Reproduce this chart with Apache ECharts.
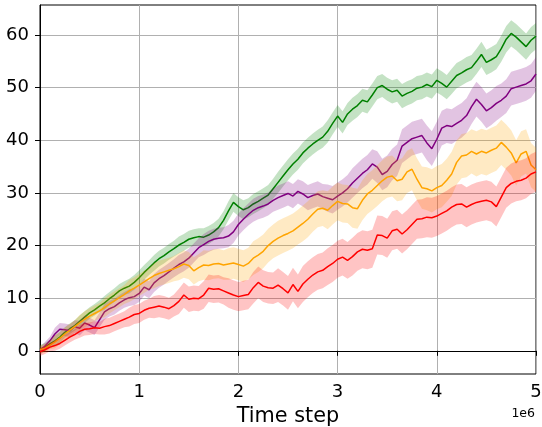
<!DOCTYPE html>
<html>
<head>
<meta charset="utf-8">
<script src="https://cdn.jsdelivr.net/npm/echarts@6/dist/echarts.min.js"></script>
<style>html,body{margin:0;padding:0;background:#fff}#c{width:542px;height:427px}</style>
</head>
<body>
<div id="c"></div>
<script>
// time steps in millions (x axis shown with 1e6 offset)
const stepsM = [0.00,0.05,0.10,0.15,0.20,0.25,0.30,0.35,0.40,0.45,0.50,0.55,0.60,0.65,0.70,0.75,0.80,0.85,0.90,0.95,
1.00,1.05,1.10,1.15,1.20,1.25,1.30,1.35,1.40,1.45,1.50,1.55,1.60,1.65,1.70,1.75,1.80,1.85,1.90,1.95,
2.00,2.05,2.10,2.15,2.20,2.25,2.30,2.35,2.40,2.45,2.50,2.55,2.60,2.65,2.70,2.75,2.80,2.85,2.90,2.95,
3.00,3.05,3.10,3.15,3.20,3.25,3.30,3.35,3.40,3.45,3.50,3.55,3.60,3.65,3.70,3.75,3.80,3.85,3.90,3.95,
4.00,4.05,4.10,4.15,4.20,4.25,4.30,4.35,4.40,4.45,4.50,4.55,4.60,4.65,4.70,4.75,4.80,4.85,4.90,4.95,5.00];

const greenMean = [0.3,0.7,1.3,1.9,2.6,3.5,4.2,4.8,5.6,6.4,7.2,7.8,8.5,9.1,9.9,10.6,11.4,11.9,12.3,13.0,
13.9,14.9,15.8,16.7,17.5,18.1,18.8,19.4,20.1,20.6,21.2,21.5,21.7,21.6,22.0,22.6,23.4,24.8,26.6,28.2,
27.4,26.8,27.2,27.9,28.4,29.0,29.6,30.8,32.0,33.2,34.4,35.5,36.4,37.6,38.5,39.3,40.0,40.6,41.7,43.2,
44.6,43.4,45.0,45.9,46.6,47.6,47.3,48.6,50.0,50.4,49.7,49.2,49.5,48.4,48.9,49.3,49.9,50.1,50.6,50.2,
51.4,50.8,50.1,51.2,52.3,52.8,53.4,53.8,55.0,56.3,54.8,55.3,55.9,57.4,59.2,60.3,59.6,58.7,57.8,59.0,59.8];

const purpleMean = [0.0,0.9,1.9,3.2,4.1,4.0,3.8,4.6,4.3,5.3,4.9,4.4,5.9,7.4,8.0,8.4,9.1,9.7,10.1,10.3,
10.9,12.1,11.6,12.9,13.7,14.3,15.0,15.7,16.4,16.9,17.6,18.6,19.6,20.2,20.8,21.2,21.4,21.5,21.8,22.6,
24.0,25.0,25.9,26.7,27.2,27.5,27.9,28.6,29.1,29.5,29.9,29.4,30.3,29.8,29.1,29.5,29.8,29.3,29.0,28.7,
29.4,30.0,30.8,31.9,32.8,33.7,34.4,35.5,34.9,33.5,34.1,35.4,36.2,38.9,39.6,40.3,40.6,40.9,39.5,38.4,
40.2,42.3,42.8,42.6,43.2,43.8,44.7,46.4,47.8,46.8,45.6,46.2,47.0,47.6,48.4,49.8,50.1,50.4,50.7,51.3,52.6];

const orangeMean = [0.2,0.5,1.1,1.7,2.4,3.2,3.9,4.6,5.3,6.0,6.6,7.1,7.6,8.2,8.9,9.5,10.1,10.7,11.4,11.9,
12.5,13.1,13.7,14.3,14.7,15.0,15.3,15.6,16.0,16.5,16.2,15.2,15.8,16.3,16.2,16.5,16.6,16.3,16.5,16.7,
16.4,16.1,16.6,17.6,18.2,18.9,20.0,20.8,21.4,21.9,22.3,22.8,23.5,24.2,25.0,26.0,26.9,27.1,26.7,27.6,
28.4,28.0,27.9,27.2,27.0,28.6,29.8,30.5,31.4,32.3,33.0,33.2,32.3,32.6,34.0,34.5,32.6,31.0,30.8,30.4,
31.0,31.4,32.4,33.6,35.8,37.0,37.2,37.9,37.4,37.9,37.6,38.1,38.5,39.6,38.7,37.6,35.7,37.4,37.9,35.3,34.4];

const redMean = [-0.2,0.2,0.7,1.0,1.4,2.0,2.6,3.1,3.7,4.1,4.2,4.4,4.3,4.6,4.8,5.2,5.6,6.0,6.4,6.9,
7.1,7.7,8.1,8.3,8.5,8.3,8.0,8.6,9.4,10.6,9.8,10.0,9.9,10.6,11.9,11.7,11.8,11.4,11.0,10.6,
10.3,10.5,10.7,12.0,13.0,12.3,12.0,11.9,12.5,11.8,11.0,12.6,11.3,12.7,13.6,14.4,15.0,15.3,16.0,16.6,
17.4,17.8,17.2,17.9,18.8,19.3,19.1,19.4,22.0,21.9,21.4,22.8,23.1,22.2,23.0,24.0,25.0,25.1,25.4,25.3,
25.6,26.1,26.6,27.3,27.8,27.9,27.3,27.8,28.2,28.4,28.6,28.3,27.4,29.2,31.0,31.8,32.2,32.4,32.8,33.6,34.0];

// band half-widths, read every 0.25e6 steps
const greenBand  = [0.8,1.0,1.1,1.3,1.4,1.5,1.6,1.7,1.8,1.9,2.0,2.0,2.1,2.2,2.2,2.3,2.3,2.4,2.4,2.5,2.5];
const purpleBand = [0.8,1.2,1.4,1.5,1.6,1.7,1.8,2.0,2.1,2.2,2.3,2.4,2.6,2.8,3.0,3.2,3.3,3.3,3.3,3.2,3.2];
const orangeBand = [0.8,1.2,1.5,1.8,2.1,2.4,2.6,2.8,3.0,3.2,3.3,3.4,3.6,3.8,3.9,4.0,4.1,4.2,4.3,4.3,4.2];
const redBand    = [0.8,1.0,1.2,1.5,1.8,2.1,2.4,2.6,2.8,3.0,3.2,3.4,3.5,3.6,3.7,3.7,3.8,3.8,3.8,3.8,3.8];
const bandStepM = 0.25;

const yTicks = [0, 10, 20, 30, 40, 50, 60];
const yMin = -4.4, yMax = 65.7;

const FONT = 'DejaVu Sans';
const seriesDefs = [
  {name:'green',  mean:greenMean,  band:greenBand,  color:'#008000', fill:'rgba(0,128,0,0.23)'},
  {name:'purple', mean:purpleMean, band:purpleBand, color:'#800080', fill:'rgba(128,0,128,0.23)'},
  {name:'orange', mean:orangeMean, band:orangeBand, color:'#FFA500', fill:'rgba(255,165,0,0.23)'},
  {name:'red',    mean:redMean,    band:redBand,    color:'#FF0000', fill:'rgba(255,0,0,0.23)'}
];

const series = [];
seriesDefs.forEach((d, k) => {
  series.push({
    type:'line', name:d.name, showSymbol:false, z:2 + k*2, animation:false,
    data: stepsM.map((t,i)=>[t*1e6, d.mean[i]]),
    lineStyle:{color:d.color, width:1.5}, itemStyle:{color:d.color}
  });
  series.push({
    type:'custom', name:d.name+'-band', z:3 + k*2, silent:true, animation:false,
    data:[[0, 0]],
    renderItem:(params, api) => {
      const upper = [], lower = [];
      stepsM.forEach((t,i)=>{
        const h = d.band[Math.round(t / bandStepM)];
        upper.push(api.coord([t*1e6, d.mean[i] + h]));
        lower.push(api.coord([t*1e6, d.mean[i] - h]));
      });
      return {type:'polygon', shape:{points: upper.concat(lower.reverse())}, style:{fill:d.fill}};
    }
  });
});

const chart = echarts.init(document.getElementById('c'), null, {renderer:'canvas'});
chart.setOption({
  animation:false,
  backgroundColor:'#fff',
  grid:{left:40, right:6, top:5, bottom:53, containLabel:false, outerBoundsMode:'none',
        show:true, borderColor:'#000', borderWidth:1, backgroundColor:'transparent'},
  xAxis:{
    type:'value', min:0, max:5e6, interval:1e6,
    name:'Time step', nameLocation:'middle', nameGap:31,
    nameTextStyle:{fontFamily:FONT, fontSize:20.8, color:'#000'},
    axisLine:{show:true, lineStyle:{color:'#000', width:1}},
    axisTick:{show:true, inside:false, length:5, lineStyle:{color:'#000'}},
    axisLabel:{fontFamily:FONT, fontSize:18, color:'#000', margin:9.5, formatter:v=>String(Math.round(v/1e6))},
    splitLine:{show:true, lineStyle:{color:'#b0b0b0', width:1}}
  },
  yAxis:{
    type:'value', min:yMin, max:yMax,
    axisLine:{show:true, lineStyle:{color:'#000', width:1}},
    axisTick:{show:true, inside:false, length:5, lineStyle:{color:'#000'}, customValues:yTicks},
    axisLabel:{fontFamily:FONT, fontSize:18, color:'#000', margin:11, customValues:yTicks},
    splitLine:{show:true, lineStyle:{color:'#b0b0b0', width:1}, customValues:yTicks}
  },
  graphic:[{type:'text', right:7, top:407, style:{text:'1e6', font:'12.5px "DejaVu Sans"', fill:'#000'}}],
  series: series
});
</script>
</body>
</html>
